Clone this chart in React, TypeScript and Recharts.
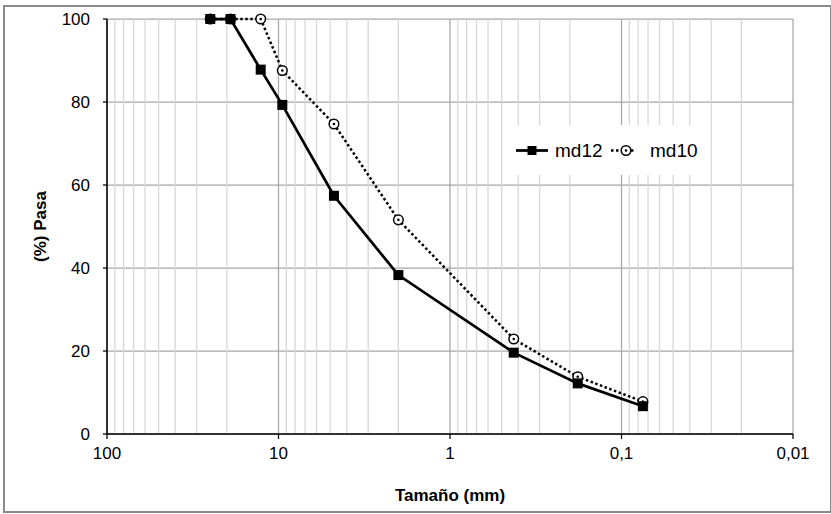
import React from 'react';
import { LineChart, Line, XAxis, YAxis, CartesianGrid, ReferenceLine, Legend, Label } from 'recharts';

// Sieve sizes (mm) and % passing
const sizes = [25, 19.05, 12.7, 9.5, 4.75, 2.0, 0.425, 0.18, 0.075];
const md12 = [100, 100, 87.8, 79.3, 57.4, 38.3, 19.6, 12.2, 6.7];
const md10 = [100, 100, 100, 87.6, 74.7, 51.6, 22.9, 13.8, 7.8];

const majorTicks = [100, 10, 1, 0.1, 0.01];
const minorTicks = [
  90, 80, 70, 60, 50, 40, 30, 20,
  9, 8, 7, 6, 5, 4, 3, 2,
  0.9, 0.8, 0.7, 0.6, 0.5, 0.4, 0.3, 0.2,
  0.09, 0.08, 0.07, 0.06, 0.05, 0.04, 0.03, 0.02,
];
const yTicks = [0, 20, 40, 60, 80, 100];
const seriesNames = ['md12', 'md10'];

const data = sizes.map((s, i) => ({ size: s, md12: md12[i], md10: md10[i] }));

const FONT = '"Liberation Sans", Arial, sans-serif';

const SquareDot = (props: any) => {
  const { cx, cy } = props;
  if (cx == null || cy == null) return null;
  return <rect x={cx - 5} y={cy - 5} width={10} height={10} fill="#000" />;
};

const CircleDot = (props: any) => {
  const { cx, cy } = props;
  if (cx == null || cy == null) return null;
  return (
    <g>
      <circle cx={cx} cy={cy} r={4.8} fill="#fff" stroke="#000" strokeWidth={1.5} />
      <circle cx={cx} cy={cy} r={1.3} fill="#000" />
    </g>
  );
};

const renderLegend = () => (
  <div style={{ width: 205, height: 50, background: '#fff' }}>
    <svg width={205} height={50} style={{ display: 'block' }}>
      <line x1={11} y1={25.5} x2={43} y2={25.5} stroke="#000" strokeWidth={2.75} />
      <rect x={22.5} y={21} width={9} height={9} fill="#000" />
      <text x={50} y={32} fontSize={19} fontFamily={FONT} fill="#000">{seriesNames[0]}</text>
      <line x1={106} y1={25.5} x2={131} y2={25.5} stroke="#000" strokeWidth={2.5} strokeDasharray="2.5 2.5" />
      <circle cx={121} cy={25.5} r={4.8} fill="#fff" stroke="#000" strokeWidth={1.5} />
      <circle cx={121} cy={25.5} r={1.3} fill="#000" />
      <text x={145} y={32} fontSize={19} fontFamily={FONT} fill="#000">{seriesNames[1]}</text>
    </svg>
  </div>
);

export default function App() {
  return (
    <div style={{ position: 'absolute', left: 0, top: 0, width: 831, height: 514, background: '#fff' }}>
      <div
        style={{
          position: 'absolute',
          left: 3,
          top: 5,
          width: 825,
          height: 504,
          border: '2px solid #8a8a8a',
          pointerEvents: 'none',
        }}
      />
      <LineChart width={831} height={514} data={data} margin={{ top: 19, right: 38, bottom: 0, left: 0 }}>
        <CartesianGrid vertical={false} stroke="#a6a6a6" strokeWidth={1.25} />
        {minorTicks.map((t) => (
          <ReferenceLine key={'mi' + t} x={t} stroke="#d6d6d6" strokeWidth={1.25} />
        ))}
        {majorTicks.map((t) => (
          <ReferenceLine key={'ma' + t} x={t} stroke="#a6a6a6" strokeWidth={1.25} />
        ))}
        <XAxis
          dataKey="size"
          type="number"
          scale="log"
          domain={[0.01, 100]}
          reversed
          allowDataOverflow
          ticks={majorTicks}
          interval={0}
          tickFormatter={(v: number) => String(v).replace('.', ',')}
          height={80}
          tickSize={5}
          tickMargin={8}
          axisLine={{ stroke: '#000', strokeWidth: 1.5 }}
          tickLine={{ stroke: '#000', strokeWidth: 1.25 }}
          tick={{ fill: '#000', fontSize: 17, fontFamily: FONT }}
        >
          <Label
            value="Tamaño (mm)"
            position="insideBottom"
            offset={13}
            style={{ fontSize: 17, fontWeight: 'bold', fontFamily: FONT, fill: '#000' }}
          />
        </XAxis>
        <YAxis
          type="number"
          domain={[0, 100]}
          ticks={yTicks}
          interval={0}
          width={107}
          tickSize={4}
          tickMargin={13}
          axisLine={{ stroke: '#000', strokeWidth: 1.5 }}
          tickLine={{ stroke: '#000', strokeWidth: 1.25 }}
          tick={{ fill: '#000', fontSize: 17, fontFamily: FONT }}
        >
          <Label
            value="(%) Pasa"
            position="insideLeft"
            angle={-90}
            offset={40}
            style={{ fontSize: 17, fontWeight: 'bold', fontFamily: FONT, fill: '#000', textAnchor: 'middle' }}
          />
        </YAxis>
        <Legend
          layout="horizontal"
          verticalAlign="middle"
          align="center"
          wrapperStyle={{ left: 505, top: 125, width: 205, height: 50 }}
          content={renderLegend}
        />
        <Line
          type="linear"
          dataKey="md10"
          name={seriesNames[1]}
          stroke="#000"
          strokeWidth={2.5}
          strokeDasharray="2.5 2.5"
          dot={<CircleDot />}
          activeDot={false}
          isAnimationActive={false}
        />
        <Line
          type="linear"
          dataKey="md12"
          name={seriesNames[0]}
          stroke="#000"
          strokeWidth={2.75}
          dot={<SquareDot />}
          activeDot={false}
          isAnimationActive={false}
        />
      </LineChart>
    </div>
  );
}
